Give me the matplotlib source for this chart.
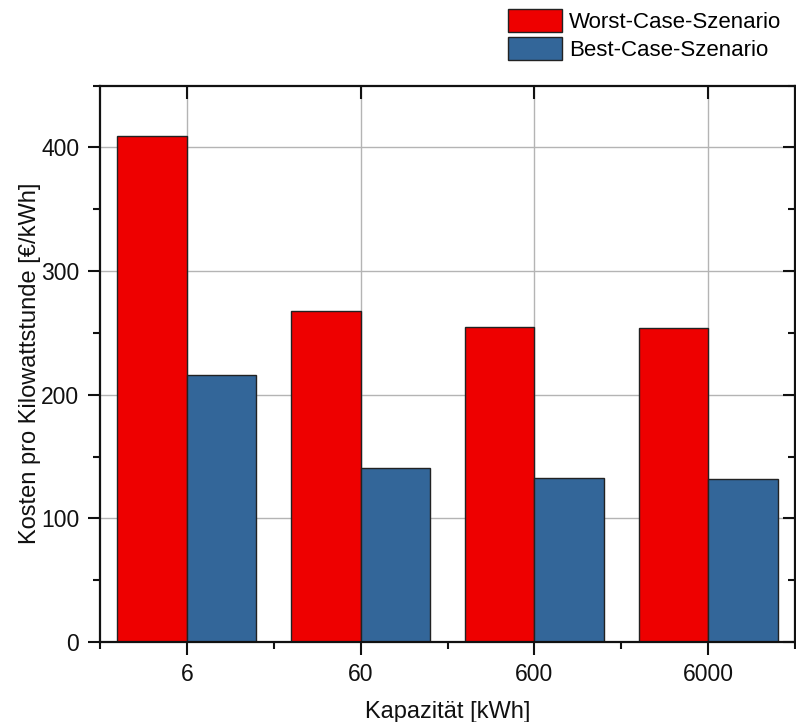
import matplotlib
matplotlib.use("Agg")
import matplotlib.pyplot as plt
import numpy as np
from matplotlib.ticker import MultipleLocator

plt.rcParams['font.family'] = ['Liberation Sans', 'DejaVu Sans']

capacities = ["6", "60", "600", "6000"]
worst_case = [409, 268, 255, 254]
best_case = [216, 141, 133, 132]
series_labels = ["Worst-Case-Szenario", "Best-Case-Szenario"]
colors = ["#EE0000", "#336699"]

fig = plt.figure(figsize=(7.96, 7.22), dpi=100)
ax = fig.add_axes([100 / 796, 1 - 642 / 722, 695 / 796, (642 - 85.5) / 722])

x = np.arange(len(capacities))
w = 0.4
b1 = ax.bar(x - w / 2, worst_case, width=w, color=colors[0], edgecolor="#222222",
            linewidth=1.0, zorder=3, label=series_labels[0])
b2 = ax.bar(x + w / 2, best_case, width=w, color=colors[1], edgecolor="#222222",
            linewidth=1.0, zorder=3, label=series_labels[1])

ax.set_xlim(-0.5, 3.5)
ax.set_ylim(0, 450)
ax.set_xticks(x)
ax.set_xticklabels(capacities)
ax.xaxis.set_minor_locator(MultipleLocator(1, offset=0.5))
ax.yaxis.set_major_locator(MultipleLocator(100))
ax.yaxis.set_minor_locator(MultipleLocator(50))

ax.grid(True, which="major", color="#b4b4b4", linewidth=1.0, zorder=0)
ax.set_axisbelow(True)

for s in ax.spines.values():
    s.set_linewidth(1.6)
    s.set_color("#111111")
    s.set_zorder(5)

ax.tick_params(axis="both", which="major", direction="out", length=9, width=1.5,
               labelsize=16.5, colors="#111111", pad=6)
ax.tick_params(axis="both", which="minor", direction="out", length=5, width=1.5,
               colors="#111111")
ax.tick_params(axis="x", which="both", top=True)
ax.tick_params(axis="y", which="both", right=True)

# inward ticks on the top and right spines
for t in ax.xaxis.get_major_ticks() + ax.xaxis.get_minor_ticks():
    t.tick2line.set_marker(3)  # TICKDOWN
for t in ax.yaxis.get_major_ticks() + ax.yaxis.get_minor_ticks():
    t.tick2line.set_marker(0)  # TICKLEFT
ax.tick_params(axis="x", which="minor", top=False)

ax.set_xlabel("Kapazität [kWh]", fontsize=17, color="#111111", labelpad=11)
ax.set_ylabel("Kosten pro Kilowattstunde [€/kWh]", fontsize=17, color="#111111", labelpad=0)

fig.legend(handles=[b1, b2], labels=series_labels, loc="upper left",
           bbox_to_anchor=(508 / 796, 1 - 9 / 722), frameon=False, fontsize=16,
           handlelength=2.45, handleheight=1.2, handletextpad=0.3,
           labelspacing=0.2, borderpad=0, borderaxespad=0)

fig.savefig("out.png", dpi=100)
